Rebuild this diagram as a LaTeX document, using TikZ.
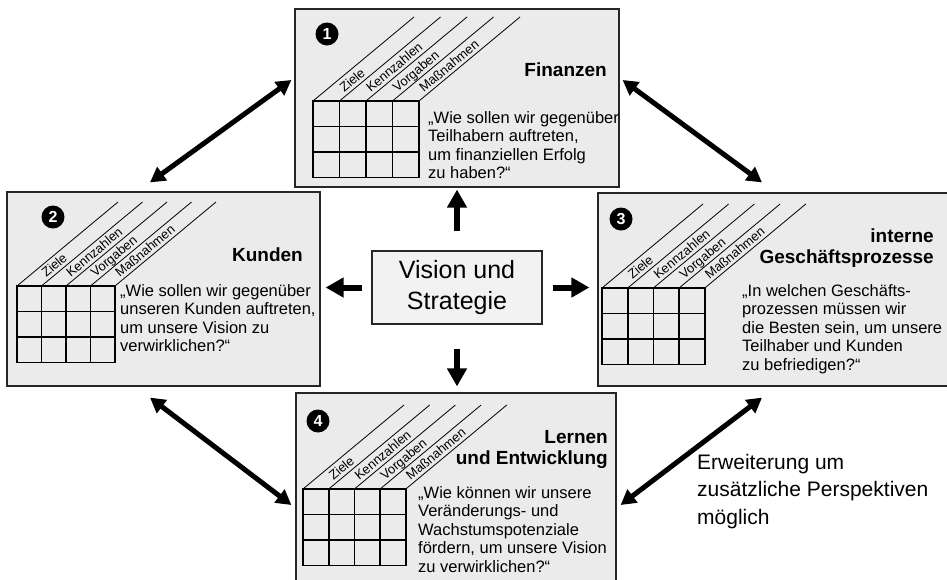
\documentclass[tikz,border=0pt]{standalone}
\usepackage{fontspec}
\setmainfont{Liberation Sans}
\usetikzlibrary{arrows.meta,calc}
\definecolor{boxgrau}{HTML}{EBEBEB}
\definecolor{mitte}{HTML}{F2F2F2}
\tikzset{
  persp/.style={draw=black!85, line width=1.2pt, fill=boxgrau, rectangle, inner sep=0pt},
  vision/.style={draw=black!85, line width=1.2pt, fill=mitte, minimum width=170pt, minimum height=73pt,
                 align=center, font=\fontsize{25}{31}\selectfont},
  nummer/.style={circle, fill=black, text=white, minimum size=23pt, inner sep=0pt, font=\fontsize{16}{16}\selectfont\bfseries},
  titel/.style={anchor=east, align=right, inner sep=0pt, font=\fontsize{19}{21}\selectfont\bfseries},
  frage/.style={anchor=north west, align=left, inner sep=0pt, font=\fontsize{16.5}{18.5}\selectfont},
  spalte/.style={anchor=base west, rotate=40, inner sep=1pt, font=\fontsize{13}{13}\selectfont},
  gitter/.style={line width=1.8pt, line cap=rect},
  diag/.style={line width=0.8pt},
  pfeil/.style={-{Triangle[length=18pt,width=19pt]}, line width=6pt},
  dpfeil/.style={{Triangle[length=15pt,width=16pt]}-{Triangle[length=15pt,width=16pt]}, line width=5pt}
}
% Kennzahlenraster mit schraegen Spaltenkoepfen, #1 = linke obere Ecke, #2 = Spaltenbreite
\newcommand{\raster}[2]{%
  \begin{scope}[shift={#1}]
    \foreach \i in {0,...,4} \draw[diag] (#2*\i,0) -- ++(101,-84);
    \foreach \t [count=\i] in {Ziele,Kennzahlen,Vorgaben,Maßnahmen}
      \node[spalte] at (#2*\i+4,-7.5) {\t};
    \foreach \i in {0,...,4} \draw[gitter] (#2*\i,0) -- (#2*\i,76.5);
    \foreach \j in {0,...,3} \draw[gitter] (0,25.5*\j) -- (4*#2,25.5*\j);
  \end{scope}}

\begin{document}
\begin{tikzpicture}[x=1pt,y=-1pt]
\useasboundingbox[fill=white] (0,0) rectangle (947,579);
% die vier Perspektiven
\node[persp, minimum width=324pt, minimum height=178pt] (fin) at (457,98) {};
\node[persp, minimum width=313pt, minimum height=194pt] (kun) at (163.5,289) {};
\node[persp, minimum width=352pt, minimum height=193pt] (proz) at (774,289.5) {};
\node[persp, minimum width=320pt, minimum height=192pt] (lern) at (456,489) {};
\node[vision] (vis) at (457,287.5) {Vision und\\Strategie};

\node[nummer] (n1) at (327,34) {1};
\node[nummer] (n2) at (53,217) {2};
\node[nummer] (n3) at (621,219) {3};
\node[nummer] (n4) at (318,421) {4};

\raster{(313,101)}{26.5} \raster{(17,286)}{24.5} \raster{(602,288)}{25.7} \raster{(303,489)}{25.7}

\node[titel] (t1) at (607,70) {Finanzen};
\node[titel] (t2) at (303,255) {Kunden};
\node[titel] (t3) at (934,248) {interne\\Geschäftsprozesse};
\node[titel] (t4) at (608,449) {Lernen\\und Entwicklung};

\node[frage] (f1) at (428,111) {„Wie sollen wir gegenüber\\Teilhabern auftreten,\\um finanziellen Erfolg\\zu haben?“};
\node[frage] (f2) at (120,284) {„Wie sollen wir gegenüber\\unseren Kunden auftreten,\\um unsere Vision zu\\verwirklichen?“};
\node[frage] (f3) at (742,284) {„In welchen Geschäfts-\\prozessen müssen wir\\die Besten sein, um unsere\\Teilhaber und Kunden\\zu befriedigen?“};
\node[frage] (f4) at (418,486) {„Wie können wir unsere\\Veränderungs- und\\Wachstumspotenziale\\fördern, um unsere Vision\\zu verwirklichen?“};

\node[anchor=north west, align=left, inner sep=0pt, font=\fontsize{21}{27.5}\selectfont] (erw) at (697,454)
  {Erweiterung um\\zusätzliche Perspektiven\\möglich};

% Pfeile
\draw[pfeil, shorten <=19pt, shorten >=2pt] (vis) -- (fin);
\draw[pfeil, shorten <=9pt, shorten >=5pt] (vis.west) -- (vis.west -| kun.east);
\draw[pfeil, shorten <=10pt, shorten >=8pt] (vis.east) -- (vis.east -| proz.west);
\draw[pfeil, shorten <=24pt, shorten >=6pt] (vis.south) -- (vis.south |- lern.north);
\draw[dpfeil] ($(kun.north)+(-13.5,-9)$) -- ($(fin.west)+(-3,-18)$);
\draw[dpfeil] ($(fin.east)+(3,-18)$) -- ($(proz.north)+(-12,-10)$);
\draw[dpfeil] ($(kun.south)+(-13.5,11)$) -- ($(lern.west)+(-4,16)$);
\draw[dpfeil] ($(lern.east)+(4,16)$) -- ($(proz.south)+(-12,11)$);
\end{tikzpicture}
\end{document}
